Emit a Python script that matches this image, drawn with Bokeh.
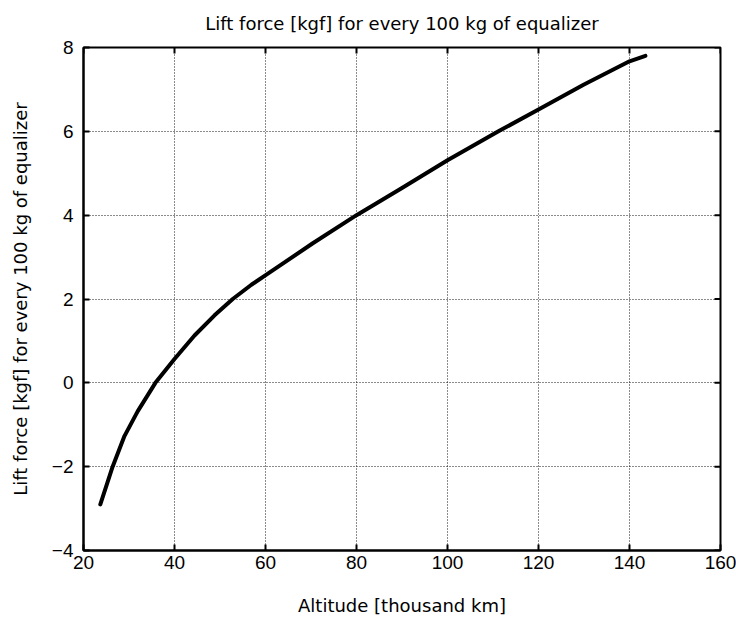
import math
from bokeh.plotting import figure
from bokeh.models import FixedTicker
from bokeh.embed import file_html
from bokeh.resources import INLINE

# Data
altitude = [23.7, 26.4, 29.0, 31.9, 35.8, 40.0, 44.4, 48.8, 52.8, 56.9, 60.2,
            70.4, 80.0, 90.0, 100.0, 111.2, 120.0, 129.9, 140.0, 143.5]
lift = [-2.9, -2.0, -1.27, -0.68, 0.0, 0.57, 1.13, 1.61, 2.0, 2.34, 2.58,
        3.33, 4.0, 4.65, 5.31, 6.0, 6.52, 7.11, 7.67, 7.8]

x_ticks = [20, 40, 60, 80, 100, 120, 140, 160]
y_ticks = [-4, -2, 0, 2, 4, 6, 8]
y_overrides = {-4: "\u22124", -2: "\u22122"}

title_text = "Lift force [kgf] for every 100 kg of equalizer"
x_label = "Altitude [thousand km]"
y_label = "Lift force [kgf] for every 100 kg of equalizer"

LABEL_FONT = "DejaVu Sans"
TICK_FONT = "Liberation Sans"

X_MIN, X_MAX = 20, 160
Y_MIN, Y_MAX = -4, 8

p = figure(width=736, height=622, x_range=(X_MIN, X_MAX), y_range=(Y_MIN, Y_MAX),
           output_backend="svg", toolbar_location=None,
           min_border_left=83, min_border_right=16, min_border_top=47, min_border_bottom=72)

p.title.text = title_text
p.title.align = "center"
p.title.vertical_align = "top"
p.title.text_font = LABEL_FONT
p.title.text_font_size = "18px"
p.title.text_font_style = "normal"
p.title.text_color = "black"
p.title.standoff = 24

p.outline_line_color = "black"
p.outline_line_width = 2
p.outline_line_alpha = 1

for ax, ticks in ((p.xaxis[0], x_ticks), (p.yaxis[0], y_ticks)):
    ax.ticker = FixedTicker(ticks=ticks)
    ax.major_tick_in = 6
    ax.major_tick_out = 0
    ax.major_tick_line_width = 2
    ax.major_tick_line_color = "black"
    ax.minor_tick_line_color = None
    ax.axis_line_color = "black"
    ax.axis_line_width = 2
    ax.major_label_text_font = TICK_FONT
    ax.major_label_text_font_size = "19px"
    ax.major_label_text_color = "black"
    ax.axis_label_text_font = LABEL_FONT
    ax.axis_label_text_font_size = "18px"
    ax.axis_label_text_font_style = "normal"
    ax.axis_label_text_color = "black"

p.xaxis.axis_label = x_label
p.xaxis.major_label_standoff = 5
p.xaxis.axis_label_standoff = 23
p.yaxis.axis_label = y_label
p.yaxis.major_label_standoff = 10
p.yaxis.axis_label_standoff = 18
p.yaxis.major_label_overrides = y_overrides

# inward ticks on the top and right sides of the box (MATLAB style)
p.ray(x=x_ticks, y=[Y_MAX] * len(x_ticks), length=6, length_units="screen",
      angle=-math.pi / 2, line_color="black", line_width=2)
p.ray(x=[X_MAX] * len(y_ticks), y=y_ticks, length=6, length_units="screen",
      angle=math.pi, line_color="black", line_width=2)

p.xgrid.ticker = FixedTicker(ticks=x_ticks)
p.ygrid.ticker = FixedTicker(ticks=y_ticks)
for g in (p.xgrid[0], p.ygrid[0]):
    g.grid_line_color = "black"
    g.grid_line_dash = "1 2"
    g.grid_line_width = 1
    g.grid_line_alpha = 0.9

p.line(altitude, lift, line_color="black", line_width=4, line_join="round", line_cap="round")

open("out.html", "w").write(file_html(p, INLINE))
